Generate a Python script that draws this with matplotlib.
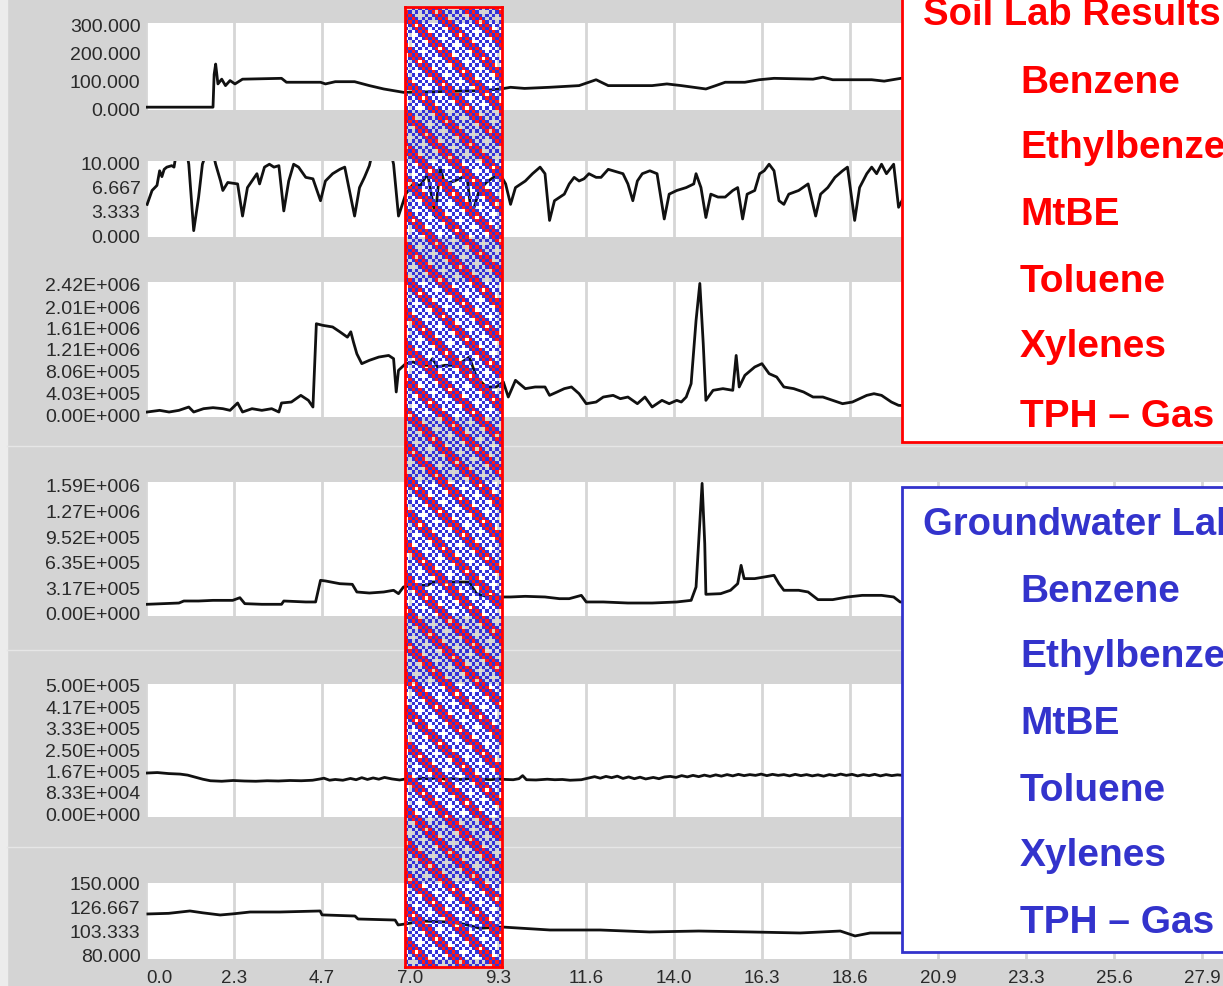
import numpy as np
import matplotlib.pyplot as plt
from matplotlib.patches import Rectangle
from matplotlib.lines import Line2D

# ---- data (x in days) ----
x_tick_labels = ['0.0', '2.3', '4.7', '7.0', '9.3', '11.6', '14.0', '16.3',
                 '18.6', '20.9', '23.3', '25.6', '27.9']
x_step = 27.9 / 12

p1_x = [0.0, 1.77, 1.80, 1.84, 1.90, 2.0, 2.1, 2.22, 2.35, 2.55, 3.58, 3.71, 4.61, 4.74,
        5.0, 5.51, 5.9, 6.28, 6.8, 7.57, 8.86, 9.38, 9.63, 10.0, 10.66, 11.44, 11.89,
        12.21, 13.37, 13.76, 14.14, 14.79, 15.05, 15.3, 15.82, 16.2, 16.59, 17.62,
        17.88, 18.14, 19.17, 19.5, 19.94, 20.5]
p1_y = [3, 3, 120, 157, 86, 103, 80, 98, 86, 103, 106, 92, 92, 86,
        94, 94, 80, 68, 56, 58, 62, 68, 74, 70, 74, 80, 101,
        80, 80, 86, 80, 68, 80, 92, 92, 101, 106, 103,
        110, 101, 101, 96, 106, 104]

p2_x = [0.03, 0.16, 0.29, 0.36, 0.42, 0.48, 0.55, 0.68, 0.74, 0.78, 1.1, 1.13, 1.26, 1.39,
        1.49, 1.55, 1.8, 1.84, 1.97, 2.03, 2.16, 2.42, 2.55, 2.68, 2.8, 2.93, 3.0, 3.13,
        3.26, 3.38, 3.51, 3.64, 3.77, 3.9, 4.03, 4.22, 4.41, 4.61, 4.74, 4.93, 5.12, 5.25,
        5.51, 5.64, 5.77, 5.9, 5.95, 6.5, 6.54, 6.67, 6.86, 7.06, 7.25, 7.44, 7.64, 7.77,
        7.89, 8.15, 8.35, 8.47, 8.6, 8.8, 8.99, 9.18, 9.38, 9.5, 9.63, 9.76, 10.02, 10.21,
        10.41, 10.54, 10.66, 10.79, 11.05, 11.18, 11.31, 11.44, 11.57, 11.7, 11.89, 12.02,
        12.21, 12.34, 12.6, 12.73, 12.86, 12.98, 13.11, 13.31, 13.5, 13.69, 13.82, 14.02,
        14.27, 14.47, 14.53, 14.66, 14.79, 14.92, 15.11, 15.3, 15.5, 15.63, 15.76, 15.88,
        16.08, 16.21, 16.33, 16.46, 16.59, 16.72, 16.85, 16.98, 17.24, 17.49, 17.69, 17.82,
        18.01, 18.2, 18.4, 18.53, 18.72, 18.85, 19.04, 19.17, 19.3, 19.43, 19.56, 19.75,
        19.88, 20.1]
p2_y = [4.2, 6.1, 6.8, 8.8, 8.0, 9.0, 9.3, 9.5, 9.3, 10.6, 10.6, 9.7, 0.6, 5.2,
        9.7, 10.6, 10.6, 9.7, 7.4, 6.1, 7.2, 7.0, 2.6, 6.5, 7.4, 8.4, 7.0, 9.3,
        9.7, 9.3, 9.5, 3.3, 7.4, 9.7, 9.3, 7.9, 7.7, 4.7, 7.4, 8.4, 9.0, 9.3,
        2.6, 6.5, 7.9, 9.5, 10.6, 10.6, 9.7, 2.6, 5.6, 7.0, 6.8, 8.4, 2.6, 9.3,
        7.0, 7.4, 7.9, 8.4, 2.6, 6.1, 7.2, 7.9, 8.1, 7.0, 4.2, 6.5, 7.4, 8.4,
        9.3, 8.4, 2.0, 4.7, 5.6, 7.0, 7.9, 7.4, 7.7, 8.4, 7.9, 7.9,
        9.0, 8.8, 8.4, 7.0, 4.7, 7.4, 8.4, 8.8, 8.4, 2.2, 5.6, 6.1,
        6.5, 7.0, 8.4, 6.5, 2.4, 5.6, 5.2, 5.2, 6.1, 6.5, 2.2, 5.6,
        6.1, 8.4, 8.8, 9.7, 8.8, 4.7, 4.2, 5.6, 6.1, 7.0, 2.6, 5.6,
        6.5, 7.9, 8.8, 9.3, 2.0, 6.5, 8.4, 9.3, 8.4, 9.7, 8.4, 9.7,
        3.8, 6.0]

p3_x = [0.03, 0.36, 0.61, 0.87, 1.13, 1.26, 1.52, 1.77, 2.03, 2.22, 2.42, 2.55, 2.8, 3.06,
        3.32, 3.51, 3.58, 3.84, 4.09, 4.29, 4.41, 4.5, 4.67, 4.93, 5.12, 5.32, 5.41, 5.48,
        5.57, 5.7, 5.9, 6.15, 6.41, 6.54, 6.61, 6.67, 6.86, 7.06, 7.25, 7.44, 7.57, 7.7,
        7.89, 8.15, 8.35, 8.54, 8.73, 8.99, 9.25, 9.44, 9.57, 9.76, 10.02, 10.28, 10.54,
        10.66, 10.86, 11.05, 11.24, 11.44, 11.63, 11.89, 12.08, 12.34, 12.53, 12.73, 12.98,
        13.18, 13.37, 13.63, 13.82, 14.02, 14.14, 14.27, 14.4, 14.53, 14.63, 14.72, 14.79,
        14.98, 15.24, 15.5, 15.59, 15.67, 15.82, 16.08, 16.27, 16.46, 16.66, 16.85, 17.11,
        17.37, 17.62, 17.88, 18.14, 18.4, 18.66, 18.85, 19.04, 19.23, 19.43, 19.69, 19.88,
        20.2]
p3_y = [37e3, 68e3, 37e3, 68e3, 130e3, 37e3, 99e3, 118e3, 99e3, 68e3, 205e3, 37e3, 99e3, 68e3,
        99e3, 37e3, 205e3, 223e3, 347e3, 254e3, 130e3, 1.68e6, 1.65e6, 1.62e6, 1.53e6, 1.43e6,
        1.53e6, 1.34e6, 1.12e6, 937e3, 999e3, 1.06e6, 1.09e6, 1.03e6, 410e3, 813e3, 937e3,
        968e3, 906e3, 906e3, 1.03e6, 875e3, 906e3, 906e3, 968e3, 1.06e6, 689e3, 503e3, 503e3,
        596e3, 316e3, 627e3, 472e3, 503e3, 503e3, 347e3, 410e3, 472e3, 503e3, 378e3, 192e3,
        223e3, 316e3, 347e3, 285e3, 316e3, 192e3, 316e3, 130e3, 254e3, 192e3, 254e3, 223e3,
        316e3, 565e3, 1.74e6, 2.43e6, 1.31e6, 254e3, 441e3, 472e3, 441e3, 1.09e6, 503e3,
        720e3, 875e3, 937e3, 751e3, 689e3, 503e3, 472e3, 410e3, 316e3, 316e3, 254e3, 192e3,
        223e3, 285e3, 347e3, 378e3, 347e3, 223e3, 161e3, 150e3]

p4_x = [0.03, 0.87, 1.0, 1.39, 1.77, 2.29, 2.48, 2.61, 3.06, 3.58, 3.64, 4.22, 4.48, 4.61,
        4.74, 5.12, 5.45, 5.57, 5.9, 6.28, 6.54, 6.67, 6.8, 7.06, 7.44, 7.57, 7.96, 8.54,
        8.73, 8.99, 9.25, 9.63, 10.02, 10.54, 10.92, 11.18, 11.5, 11.63, 12.08, 12.73, 13.37,
        14.02, 14.4, 14.53, 14.69, 14.76, 14.79, 15.18, 15.44, 15.63, 15.72, 15.8, 16.08,
        16.33, 16.59, 16.72, 16.85, 17.24, 17.49, 17.75, 18.14, 18.53, 18.92, 19.43, 19.75,
        19.92, 20.2]
p4_y = [108e3, 124e3, 149e3, 149e3, 157e3, 157e3, 190e3, 116e3, 108e3, 108e3, 149e3, 137e3,
        137e3, 406e3, 398e3, 364e3, 356e3, 261e3, 248e3, 261e3, 282e3, 240e3, 323e3, 344e3,
        344e3, 385e3, 385e3, 385e3, 240e3, 207e3, 199e3, 199e3, 207e3, 199e3, 178e3, 178e3,
        219e3, 137e3, 137e3, 124e3, 124e3, 137e3, 157e3, 323e3, 1.61e6, 861e3, 232e3, 240e3,
        282e3, 364e3, 592e3, 427e3, 427e3, 447e3, 468e3, 364e3, 282e3, 282e3, 261e3, 166e3,
        166e3, 199e3, 219e3, 219e3, 199e3, 137e3, 130e3]

p5_x = [0.0, 0.3, 0.6, 0.9, 1.1, 1.3, 1.5, 1.7, 2.0, 2.3, 2.6, 2.9, 3.2, 3.5, 3.8, 4.1, 4.4,
        4.6, 4.7, 4.85, 5.0, 5.2, 5.4, 5.55, 5.7, 5.85, 6.0, 6.15, 6.3, 6.5, 6.7, 6.9, 7.1,
        7.3, 7.5, 7.7, 7.9, 8.1, 8.3, 8.5, 8.7, 8.9, 9.1, 9.3, 9.5, 9.7, 9.85, 9.95, 10.05,
        10.3, 10.6, 10.8, 11.0, 11.2, 11.5, 11.7, 11.85, 12.0, 12.15, 12.3, 12.45, 12.6,
        12.75, 12.9, 13.05, 13.2, 13.4, 13.55, 13.7, 13.85, 14.0, 14.15, 14.3, 14.45, 14.6,
        14.75, 14.9, 15.05, 15.2, 15.35, 15.5, 15.65, 15.8, 15.95, 16.1, 16.25, 16.4, 16.55,
        16.7, 16.85, 17.0, 17.15, 17.3, 17.45, 17.6, 17.75, 17.9, 18.05, 18.2, 18.35, 18.5,
        18.65, 18.8, 18.95, 19.1, 19.25, 19.4, 19.55, 19.7, 19.85, 20.0]
p5_y = [156e3, 158e3, 154e3, 152e3, 148e3, 140e3, 132e3, 126e3, 124e3, 127e3, 125e3, 124e3,
        126e3, 125e3, 127e3, 126e3, 128e3, 133e3, 136e3, 128e3, 131e3, 128e3, 135e3, 130e3,
        138e3, 131e3, 137e3, 132e3, 139e3, 133e3, 129e3, 134e3, 131e3, 136e3, 133e3, 138e3,
        132e3, 135e3, 131e3, 134e3, 137e3, 132e3, 130e3, 133e3, 131e3, 130e3, 134e3, 146e3,
        130e3, 129e3, 132e3, 130e3, 131e3, 128e3, 130e3, 137e3, 142e3, 136e3, 143e3, 138e3,
        144e3, 135e3, 141e3, 134e3, 140e3, 133e3, 139e3, 134e3, 141e3, 143e3, 139e3, 146e3,
        141e3, 147e3, 142e3, 148e3, 143e3, 149e3, 144e3, 150e3, 145e3, 151e3, 146e3, 150e3,
        147e3, 152e3, 146e3, 151e3, 147e3, 150e3, 145e3, 151e3, 146e3, 150e3, 145e3, 149e3,
        144e3, 150e3, 146e3, 152e3, 147e3, 151e3, 145e3, 150e3, 146e3, 151e3, 145e3, 150e3,
        146e3, 149e3, 147e3]

p6_x = [0.05, 0.6, 1.16, 1.5, 1.96, 2.3, 2.75, 3.54, 4.6, 4.65, 5.52, 5.6, 6.58, 6.66, 6.84,
        7.3, 8.03, 8.4, 8.82, 9.41, 10.67, 12.0, 13.3, 14.6, 15.96, 17.28, 18.34, 18.73,
        19.13, 19.92, 20.3]
p6_y = [119.9, 120.5, 122.8, 121, 118.9, 120, 121.8, 121.8, 122.8, 119, 117.9, 115, 114, 109.2,
        110.1, 113, 112, 110, 106, 107.2, 104.3, 104.3, 102.4, 103.3, 102.4, 101.4, 103.3, 98.5,
        101.4, 101.4, 101]

y_tick_values = [
    [0, 100, 200, 300],
    [0, 3.333, 6.667, 10],
    [0, 4.03e5, 8.06e5, 1.21e6, 1.61e6, 2.01e6, 2.42e6],
    [0, 3.17e5, 6.35e5, 9.52e5, 1.27e6, 1.59e6],
    [0, 8.33e4, 1.67e5, 2.50e5, 3.33e5, 4.17e5, 5.00e5],
    [80, 103.333, 126.667, 150],
]
y_tick_labels = [
    ['0.000', '100.000', '200.000', '300.000'],
    ['0.000', '3.333', '6.667', '10.000'],
    ['0.00E+000', '4.03E+005', '8.06E+005', '1.21E+006', '1.61E+006', '2.01E+006', '2.42E+006'],
    ['0.00E+000', '3.17E+005', '6.35E+005', '9.52E+005', '1.27E+006', '1.59E+006'],
    ['0.00E+000', '8.33E+004', '1.67E+005', '2.50E+005', '3.33E+005', '4.17E+005', '5.00E+005'],
    ['80.000', '103.333', '126.667', '150.000'],
]
series = [(p1_x, p1_y), (p2_x, p2_y), (p3_x, p3_y), (p4_x, p4_y), (p5_x, p5_y), (p6_x, p6_y)]

soil_title = 'Soil Lab Results'
water_title = 'Groundwater Lab Results'
analytes = ['Benzene', 'Ethylbenzene', 'MtBE', 'Toluene', 'Xylenes', 'TPH \u2013 Gas']

# ---- layout (pixels) ----
W, H = 1223, 987
panel_px = [(24, 111), (162, 238), (283, 418), (483, 617), (685, 818), (884, 960)]
ylims = [(-7.1, 303.6), (-0.27, 10.14), (-55.8e3, 2.457e6), (-37.3e3, 1.627e6),
         (-15.6e3, 503.9e3), (76.1, 150)]
left_px = 146
font = 'Liberation Sans'
soil_red = '#ff0000'
water_blue = '#3333cc'


def fx(px):
    return px / W


def fy(py):
    return 1 - py / H


fig = plt.figure(figsize=(W / 100, H / 100), dpi=100)
fig.patch.set_facecolor('#d4d4d4')
fig.add_artist(Rectangle((0, 0), fx(7), 1, transform=fig.transFigure,
                         color='#ececec', zorder=-2))
for sep in [447, 651, 848]:
    fig.add_artist(Line2D([fx(7), 1], [fy(sep), fy(sep)], transform=fig.transFigure,
                          color='#e6e6e6', lw=1, zorder=-1))

x_ticks = np.arange(len(x_tick_labels)) * x_step
axes = []
for i, ((top, bot), (xs, ys)) in enumerate(zip(panel_px, series)):
    ax = fig.add_axes([fx(left_px), fy(bot), 1 - fx(left_px), (bot - top) / H])
    ax.set_facecolor('white')
    ax.plot(xs, ys, color='#111111', lw=2, solid_joinstyle='round')
    ax.set_xlim(0, 28.45)
    ax.set_ylim(*ylims[i])
    ax.set_xticks(x_ticks)
    ax.grid(axis='x', color='#d6d6d6', lw=2)
    ax.set_axisbelow(True)
    ax.set_yticks(y_tick_values[i])
    ax.set_yticklabels(y_tick_labels[i], fontsize=14, family=font, color='#2a2a2a')
    ax.tick_params(length=0, pad=4)
    for s in ax.spines.values():
        s.set_visible(False)
    if i < len(panel_px) - 1:
        ax.set_xticklabels([])
    else:
        ax.set_xticklabels(x_tick_labels, fontsize=13.5, family=font, color='#2a2a2a')
        ax.tick_params(axis='x', pad=7)
        ax.get_xticklabels()[0].set_horizontalalignment('left')
    axes.append(ax)

# checkered highlight band (red/blue dither over the panels)
rows, cols = 290, 29
ii, jj = np.mgrid[0:rows, 0:cols]
pattern = np.zeros((rows, cols, 4))
even = (ii + jj) % 2 == 0
blue_cells = even & ((ii + 3 * jj) % 7 != 0)
red_cells = (~even) & np.isin((ii - jj) % 5, [1, 3])
pattern[blue_cells] = [0.2, 0.2, 0.85, 1]
pattern[red_cells] = [1, 0.1, 0.1, 1]
ax_h = fig.add_axes([fx(405), fy(968), fx(502) - fx(405), (968 - 8) / H])
ax_h.imshow(pattern, aspect='auto', interpolation='nearest')
ax_h.set_facecolor('none')
ax_h.set_xticks([])
ax_h.set_yticks([])
for s in ax_h.spines.values():
    s.set_color(soil_red)
    s.set_linewidth(2)

# legend boxes
fig.add_artist(Rectangle((fx(902), fy(443)), 0.3, (443 + 10) / H, transform=fig.transFigure,
                         facecolor='white', edgecolor=soil_red, lw=2, zorder=5))
fig.add_artist(Rectangle((fx(902), fy(953)), 0.3, (953 - 488) / H, transform=fig.transFigure,
                         facecolor='white', edgecolor=water_blue, lw=2, zorder=5))

fig.text(fx(923), fy(25), soil_title, color=soil_red, fontsize=27.5, fontweight='bold',
         family=font, va='baseline', zorder=6)
for name, base in zip(analytes, [93, 158, 225, 292, 357, 427]):
    fig.text(fx(1020), fy(base), name, color=soil_red, fontsize=28, fontweight='bold',
             family=font, va='baseline', zorder=6)

fig.text(fx(923), fy(535), water_title, color=water_blue, fontsize=27.5, fontweight='bold',
         family=font, va='baseline', zorder=6)
for name, base in zip(analytes, [602, 667, 734, 801, 866, 933]):
    fig.text(fx(1020), fy(base), name, color=water_blue, fontsize=28, fontweight='bold',
             family=font, va='baseline', zorder=6)

fig.savefig('out.png', dpi=100)
